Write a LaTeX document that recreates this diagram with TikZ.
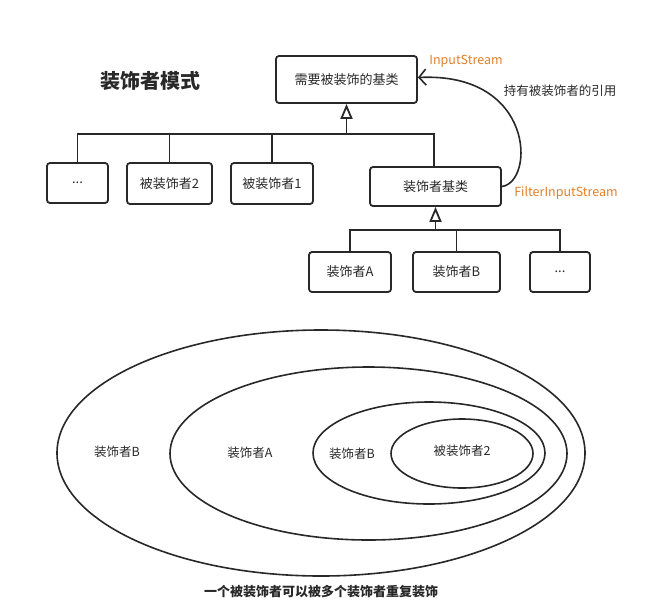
\documentclass[tikz,border=0pt]{standalone}
\usepackage{fontspec}
\setmainfont{Noto Sans CJK SC}
\usetikzlibrary{arrows.meta}
\definecolor{ink}{RGB}{40,40,40}
\definecolor{orng}{RGB}{226,128,42}
\tikzset{
  box/.style={draw=ink, line width=1.8pt, rounded corners=3pt, inner sep=0pt,
    font=\fontsize{13}{15}\selectfont, text=ink, fill=white},
  wire/.style={draw=ink, line width=1.9pt},
  inh/.style={wire, -{Triangle[open, length=15pt, width=12pt, line width=1.8pt, fill=white]}},
  refarrow/.style={draw=ink, line width=1.6pt, -{Straight Barb[length=7pt, width=16pt, line width=1.6pt]}},
  lbl/.style={font=\fontsize{12.5}{14}\selectfont, text=ink, inner sep=0pt},
  olbl/.style={font=\fontsize{12.5}{14}\selectfont, text=orng, inner sep=0pt},
  ring/.style={draw=ink, line width=1.6pt},
}
\begin{document}
\begin{tikzpicture}[x=1pt, y=-1pt]
\useasboundingbox (0,0) rectangle (660,608);

% title
\node[font=\fontsize{20}{23}\selectfont\bfseries, text=ink, inner sep=0pt] (title) at (150.5,81) {装饰者模式};

% top class
\node[box, minimum width=141pt, minimum height=47pt] (base) at (346.5,79.5) {需要被装饰的基类};

% row 1
\node[box, minimum width=61pt, minimum height=40pt] (dots1) at (77.5,183) {...};
\node[box, minimum width=85pt, minimum height=41pt] (c2) at (169.5,183.5) {被装饰者2};
\node[box, minimum width=82pt, minimum height=41pt] (c1) at (272,183.5) {被装饰者1};
\node[box, minimum width=131pt, minimum height=39pt] (deco) at (435.5,186.5) {装饰者基类};

% row 2
\node[box, minimum width=82pt, minimum height=40pt] (da) at (350,272) {装饰者A};
\node[box, minimum width=87pt, minimum height=40pt] (db) at (456.5,272) {装饰者B};
\node[box, minimum width=60pt, minimum height=40pt] (dots2) at (560,272) {...};

% buses
\coordinate (bus1) at (346.5,134);
\coordinate (bus2) at (435.5,230);

\draw[wire] (dots1.north) |- (bus1);
\draw[wire] (c2.north) |- (bus1);
\draw[wire] (c1.north) |- (bus1);
\draw[wire] ([xshift=-1.5pt]deco.north) |- (bus1);
\draw[inh] (bus1) -- (base.south);

\draw[wire] (da.north) |- (bus2);
\draw[wire] (db.north) |- (bus2);
\draw[wire] (dots2.north) |- (bus2);
\draw[inh] (bus2) -- (deco.south);

% reference curve
\draw[refarrow] (deco.east) .. controls (535,182) and (535,72) .. ([yshift=2pt]base.east);

% labels
\node[olbl] (is) at (466,61) {InputStream};
\node[lbl] (hold) at (560,91) {持有被装饰者的引用};
\node[olbl] (fis) at (566,193) {FilterInputStream};

% nested ellipses
\draw[ring] (321,453) ellipse [x radius=264pt, y radius=123pt];
\draw[ring] (368.5,453.5) ellipse [x radius=198.5pt, y radius=86.5pt];
\draw[ring] (429,453) ellipse [x radius=116pt, y radius=51pt];
\draw[ring] (462,453.5) ellipse [x radius=71pt, y radius=34.5pt];

\node[lbl] (eb1) at (117,452) {装饰者B};
\node[lbl] (ea) at (250,453) {装饰者A};
\node[lbl] (eb2) at (352,454) {装饰者B};
\node[lbl] (ec) at (462,451) {被装饰者2};

\node[font=\fontsize{13}{15}\selectfont\bfseries, text=ink, inner sep=0pt] (cap) at (321,592) {一个被装饰者可以被多个装饰者重复装饰};
\end{tikzpicture}
\end{document}
